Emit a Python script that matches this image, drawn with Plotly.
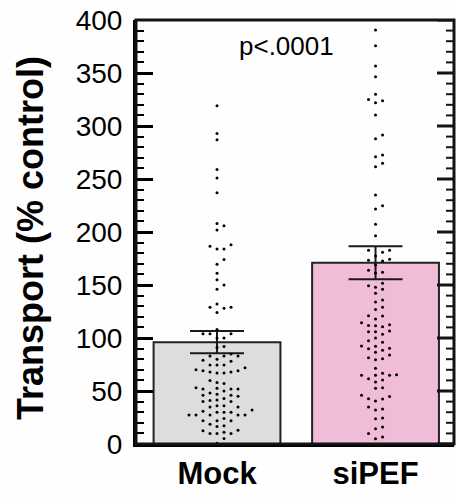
import numpy as np
import plotly.graph_objects as go

categories = ["Mock", "siPEF"]
bar_means = [96, 171]
bar_sem = [10.5, 15.5]

mock_values = [319, 293, 287, 259, 251, 237, 208, 206, 202,
               188, 186.5, 184, 184, 174, 169.5, 161, 155, 150, 146, 132, 129, 129, 128, 124,
               108, 104, 104, 104, 100, 100,
               92, 91, 85, 83, 83, 83, 80, 79, 78, 74.5, 74.5, 74.5, 72, 70, 69, 69, 68, 68,
               67, 67, 60, 58, 57, 53, 52.5, 52, 52, 52, 50, 48, 47, 46, 46, 45, 43, 41.5,
               41, 40, 40, 36, 36, 35, 35, 32, 31, 30, 30, 30, 27.4, 27.4, 27.4, 27.4, 27.4,
               24, 22, 22, 22, 18.6, 17.3, 16.4, 13, 12.6, 11, 10, 10, 10, 5.3, 0.7]

sipef_values = [390.6, 375.8, 356.6, 346.5, 330, 325, 322, 323.9, 310.4, 291.5, 288, 271, 272.6,
                264.8, 261.6, 234.9, 224.8, 221.7, 207.2, 196.5, 182.7, 180.8, 182.7, 177.4,
                173.3, 172.6, 174.2, 168.9, 163.8, 161.3, 162, 151.6, 149.4, 146, 147.8, 142.2,
                135.8, 134,
                129, 127, 120.8, 121, 117.9, 112.6, 111.7, 110.7, 111.6, 114.4, 105.9, 103.5,
                105.9, 106.5, 97.5, 100, 95.9, 92.5, 89.9, 88.4, 92.2, 86.5, 90.3, 84, 80.5,
                79.5, 81.4, 71.4, 65.4, 64.8, 61.6, 64.8, 64.8, 66.7, 60.4, 58.5, 53.1, 52.5,
                44.7, 40.6, 42.5, 42.8, 45.9, 34.9, 32, 33, 23.9, 24.5, 16, 14.5, 10, 6.6, 5]

major_ticks = list(range(0, 401, 50))
minor_ticks = [v for v in range(0, 401, 10) if v % 50 != 0]

p_text = "p<.0001"
y_title = "Transport (% control)"
bar_colors = ["#dcdedd", "#f0bcd8"]

FONT = "Liberation Sans, Arial, sans-serif"
PLOT_W = 318
FRAME = "#141414"


def swarm(vals, center, step=0.0442, dy=5.5):
    vals = np.asarray(vals, dtype=float)
    order = np.argsort(vals)
    placed = []
    xs = np.zeros(len(vals))
    cands = [0]
    for n in range(1, 30):
        cands += [n, -n]
    for i in order:
        v = vals[i]
        chosen = 0
        for s in cands:
            if all(not (ps == s and abs(pv - v) < dy) for pv, ps in placed):
                chosen = s
                break
        placed.append((v, chosen))
        xs[i] = center + chosen * step
    return xs


fig = go.Figure()
fig.add_trace(go.Bar(
    x=[0, 1], y=bar_means, width=0.8,
    marker=dict(color=bar_colors, line=dict(color="#222222", width=2)),
    error_y=dict(type="data", array=bar_sem, thickness=2, width=27, color="#1a1a1a"),
    hoverinfo="skip",
))
for idx, vals in enumerate([mock_values, sipef_values]):
    fig.add_trace(go.Scatter(
        x=swarm(vals, idx), y=vals, mode="markers",
        marker=dict(size=3, color="black"),
        hoverinfo="skip",
    ))
fig.add_trace(go.Scatter(x=[0, 1], y=bar_means, yaxis="y2", mode="markers",
                         marker=dict(size=1, opacity=0), hoverinfo="skip"))

shapes = [dict(type="rect", xref="paper", yref="paper", x0=0, x1=1, y0=0, y1=1,
               line=dict(color=FRAME, width=3), layer="above")]
for v in major_ticks:
    shapes.append(dict(type="line", xref="paper", yref="y", x0=1, x1=1 - 17 / PLOT_W,
                       y0=v, y1=v, line=dict(color=FRAME, width=3), layer="above"))
for v in minor_ticks:
    shapes.append(dict(type="line", xref="paper", yref="y", x0=1, x1=1 - 8 / PLOT_W,
                       y0=v, y1=v, line=dict(color=FRAME, width=2), layer="above"))

fig.update_layout(
    width=456, height=497,
    margin=dict(l=136, r=2, t=20, b=53),
    plot_bgcolor="#fefefe", paper_bgcolor="#fefefe",
    showlegend=False,
    font=dict(family=FONT, color="black"),
    xaxis=dict(
        range=[-0.511, 1.495], tickvals=[0, 1],
        ticktext=["<b>%s</b>" % c for c in categories],
        ticks="", showline=True, linewidth=3, linecolor="black",
        showgrid=False, zeroline=False,
        tickfont=dict(family=FONT, size=31, color="black"),
    ),
    yaxis=dict(
        range=[0, 400], tickvals=major_ticks,
        ticks="inside", ticklen=17, tickwidth=3, tickcolor="black",
        showline=True, linewidth=3, linecolor="black",
        showgrid=False, zeroline=False,
        tickfont=dict(family=FONT, size=28, color="black"),
        ticklabelstandoff=5,
    ),
    yaxis2=dict(
        range=[0, 400], tickvals=minor_ticks, overlaying="y", side="left",
        ticks="inside", ticklen=8, tickwidth=2, tickcolor="black",
        showline=False, showticklabels=False, showgrid=False, zeroline=False,
    ),
    shapes=shapes,
    annotations=[
        dict(text=p_text, xref="paper", yref="paper",
             x=(286 - 136) / PLOT_W, y=(444 - 46) / 424,
             xanchor="center", yanchor="middle", showarrow=False,
             font=dict(family=FONT, size=26, color="black")),
        dict(text="<b>%s</b>" % y_title, xref="paper", yref="paper",
             x=(31 - 136) / PLOT_W, y=(444 - 238) / 424, textangle=-90,
             xanchor="center", yanchor="middle", showarrow=False,
             font=dict(family=FONT, size=36, color="black")),
    ],
)

fig.write_html("out.html")
